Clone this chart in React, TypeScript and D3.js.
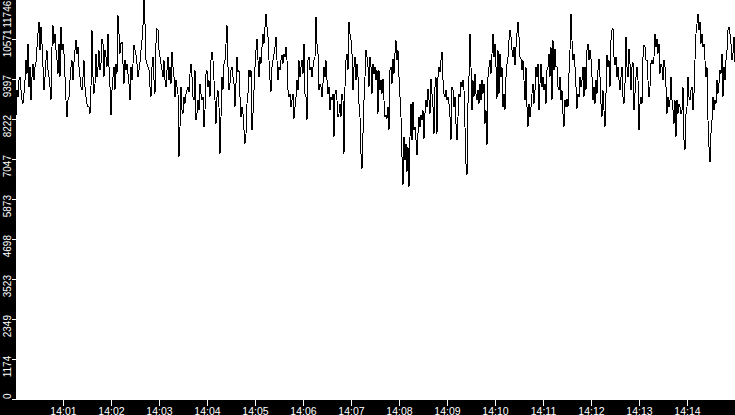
import * as d3 from "d3"

// samples, one every 1.25 s starting 14:00:00.875
const seg1 = [8340,9074,8878,9368,9466,9074,8780,8682,8976,9368,9955,9563,10444,9172,9759,8780,9466,9857,9368,9759,9906,10347,10738,11081,10249,10934,10444,9759,9074,9466,9955,10249,9661,9466,9172,8780,10347,10983,10444,10738,10249,9955,9563,10444,9466,10934,10249,10444,10151,9466,8780,8291,8780,8878,9368,9759,9955,9368,9906,10249,10542,10151,10347,9759,9466,9172,9074,9466,9955,9172,8878,8682,8584,8584,8389,9172,10836,9466,8976,9270,10151,9466,9759,10249,9661,9857,10591,10444,9466,10249,10053]
const seg2 = [9759,10738,9759,9172,8340,9074,9466,9759,9074,9857,9563,11276,10738,10151,10444,10493,9857,9270,9955,9661,9857,9563,9270,8780,9759,9368,9857,10395,10249,10102,9857,9466,9661,9906,10249,10542,10983,11746.5,11032,9955,9857,9759,9661,9172,8878,9759,10053,9368,8976,10444,10885,10836,10249,10053,9857,9661,9466,9955,9368,9172,9661,10053,9368,9759,9270,10200,9759,9466,8878,9368,9172,8976,7116,7997,9172,8487,8389,8878,8682,8976,9074,9172,9025,9563,9857,9466,8878,8780,9661,8193]
const seg3 = [8389,8780,8487,9270,8976,8780,8878,7997,8487,9563,9661,9172,9368,8878,9955,10200,9955,9368,8780,8095,8878,9074,8584,7214,8291,9466,9074,9857,9955,10444,10983,9759,9074,9270,9661,9759,9466,9270,8584,9270,10053,9612,9661,8878,8291,8584,8389,7899,7508,7801,8682,8976,9661,9466,9661,7899,8389,9074,9759,10249,10591,9955,9466,10053,9857,10347,10738,10444,10934,11325,10934,10640,9955,9368,9025,9759,9955,10151,10347,10640,9955,9368,9759,9661,9955,10102,9857,10151,10053,10347]
const seg4 = [9955,9074,8878,8976,8584,8780,8976,8242,8584,8878,9368,9074,9955,9466,9759,9955,9563,10444,8976,8878,8193,9955,10053,9661,9759,9466,9759,9955,10053,11228,10444,10151,9074,9270,9172,8878,9270,9759,9466,9955,9368,8976,9172,8487,8878,8780,8976,7703,8976,9074,8780,8291,8389,8682,8291,8976,8780,7214,9172,9955,10151,9661,11081,10738,10542,10151,9074,9759,10053,9368,9857,9466,8682,8291,7214,6773,7801,8780,9466,10249,10053,9759,9172,10053,9759,8976,9857,9563,9759,9368]
const seg5 = [9661,8389,9661,9074,9368,8976,9417,8780,8291,8340,8242,8584,7899,9661,9759,9270,10004,9563,10151,10542,9955,10249,9466,8878,8291,7116,6284,7703,7018,7508,6676,7410,6235,7703,8682,7606,8731,7899,7997,7606,7165,7801,8291,7997,8340,8193,8487,7654,8389,8780,8584,9123,8780,8389,9417,8976,8584,7801,9172,9466,7801,9466,9759,9612,9955,10200,9368,8976,8878,9074,8780,8878,8682,8291,7606,9172,9074,8584,8878,8095,7606,8291,8976,8878,9319,9172,9368,9074,7997,6921]
const seg6 = [6578,8682,9466,10738,9759,8487,9368,8878,9563,8976,8780,9074,8682,9270,8780,9368,8976,9270,8095,8487,7459,9466,9759,9955,9563,10151,10738,10053,10444,9759,8829,10249,8976,10151,9466,9759,8584,8976,8487,9466,9857,10053,10542,10836,10640,10249,10053,10347,9808,10347,10738,11081,10640,10053,10004,9661,9955,9368,8780,9759,8584,7997,8682,8291,8584,8976,9270,8682,9074,9759,9466,9857,8487,9270,9857,9172,9466,9074,9270,8682,9661,9759,10151,9466,10347,8780,10542,9661,10298,9759]
const seg7 = [9759,9172,9074,9466,8780,9074,8389,7997,8780,8584,8829,8584,9563,10249,11325,10542,9955,10151,9759,9172,8535,8976,8878,9466,9172,9368,9759,8878,9759,9074,10249,10444,9955,10249,10004,9466,8780,9172,8682,9368,8976,9661,10004,9466,8682,8291,9074,8487,7997,8976,10102,9759,9955,9172,10542,10836,10885,10053,9808,10053,9466,9759,9368,9074,9466,9759,8878,8682,9270,10640,9759,9466,10298,9857,9074,9759,9906,8487,8976,9466,9759,9368,7899,8682,8878,8682,10053,10395,10347,9955]
const seg8 = [9955,9368,8878,9172,9857,9955,9857,10053,10738,10347,10591,10151,10444,9563,9857,9759,9368,9955,9759,9172,8389,8878,8584,8780,9466,8780,8487,8095,8780,7703,8780,8389,8682,8584,8389,8487,9172,7606,7312,8389,8584,9466,8878,8780,9074,9172,8487,8976,9955,10738,11032,11325,10836,11081,10444,10738,10347,10444,9955,9466,9759,8193,7410,6969,7801,8193,8878,8487,8780,8682,9368,8976,9270,9661,9563,10151,8878,9759,9368,9955,10249,10836,10934,10738,10444,9955,10151,10640,9906]

const values = [...seg1, ...seg2, ...seg3, ...seg4, ...seg5, ...seg6, ...seg7, ...seg8]
const START = new Date(2024, 0, 1, 14, 0, 0)
const END = new Date(2024, 0, 1, 14, 15, 0)
const FIRST_OFFSET = 875 // ms
const STEP = 1250 // ms
const minuteTicks = ["14:01","14:02","14:03","14:04","14:05","14:06","14:07","14:08","14:09","14:10","14:11","14:12","14:13","14:14"]

const W = 735, H = 415
const PL = 16, PB = 400
const FONT = "'Liberation Sans', Arial, sans-serif"

export default function App() {
  const data = values.map((v, i) => ({ t: new Date(+START + FIRST_OFFSET + i * STEP), v }))
  const max = d3.max(values) as number
  const x = d3.scaleTime().domain([START, END]).range([15.3, 735.3])
  const y = d3.scaleLinear().domain([0, max]).range([399.3, -0.7])
  const line = d3.line<{ t: Date; v: number }>().x(d => x(d.t)).y(d => y(d.v))
  const yTicks = d3.range(11).map(k => (k * max) / 10)
  const fmt = d3.timeFormat("%H:%M")
  const xTicks = x.ticks(d3.timeMinute.every(1)!).filter(d => minuteTicks.includes(fmt(d)))
  const charW = 5.56

  return (
    <svg width={W} height={H} style={{ position: "absolute", left: 0, top: 0, display: "block" }}>
      <rect x={0} y={0} width={W} height={H} fill="#000" />
      <rect x={PL} y={0} width={W - PL} height={PB} fill="#fff" />
      <defs>
        <clipPath id="plot"><rect x={PL} y={0} width={W - PL} height={PB} /></clipPath>
      </defs>
      <path d={line(data) ?? ""} fill="none" stroke="#000" strokeWidth={1} clipPath="url(#plot)" shapeRendering="crispEdges" />

      {/* y axis */}
      {yTicks.map((t, i) => {
        const ty = y(t)
        const label = String(Math.floor(t))
        const len = label.length * charW
        const base = Math.max(len, Math.min(ty + 18, PB - 1))
        return (
          <g key={i}>
            <line x1={12} x2={16} y1={Math.round(ty) + 0.5} y2={Math.round(ty) + 0.5} stroke="#fff" />
            <text transform={`translate(10.5,${base}) rotate(-90)`} fill="#fff" fontFamily={FONT} fontSize={10}>{label}</text>
          </g>
        )
      })}

      {/* x axis */}
      {xTicks.map((d, i) => {
        const tx = Math.round(x(d)) + 0.5
        return (
          <g key={i}>
            <line x1={tx} x2={tx} y1={PB} y2={406} stroke="#fff" />
            <text x={tx} y={414.5} textAnchor="middle" fill="#fff" fontFamily={FONT} fontSize={10.5}>{fmt(d)}</text>
          </g>
        )
      })}
    </svg>
  )
}
